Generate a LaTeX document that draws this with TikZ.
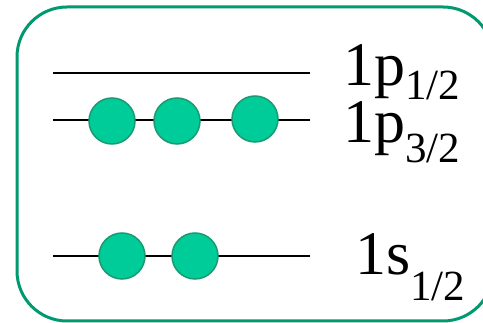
\documentclass[tikz,border=0pt]{standalone}
\usepackage{fontspec}
\setmainfont{Liberation Serif}
\definecolor{boxgreen}{RGB}{0,153,112}
\definecolor{ballfill}{RGB}{0,204,153}
\definecolor{ballline}{RGB}{26,154,112}
\tikzset{
  ball/.style={circle, minimum size=46pt, inner sep=0pt, fill=ballfill, draw=ballline, line width=1.5pt},
  level/.style={draw=black, line width=1.1pt},
  lab/.style={anchor=base west, inner sep=0pt, font=\fontsize{62}{64}\selectfont}
}
\newcommand{\sub}[2]{\raisebox{-#1pt}{\fontsize{43}{45}\selectfont #2}}
\begin{document}
\begin{tikzpicture}[x=1pt,y=-1pt]
\useasboundingbox (0,0) rectangle (483,323);
\clip (0,0) rectangle (483,323);
\draw[boxgreen, line width=3pt, rounded corners=50pt] (17,7) rectangle (493,321);
% levels
\coordinate (a1) at (53,73);  \coordinate (a2) at (310,73);
\coordinate (b1) at (53,120); \coordinate (b2) at (310,120);
\coordinate (c1) at (53,256); \coordinate (c2) at (310,256);
\draw[level] (a1) -- (a2);
\draw[level] (b1) -- (b2);
\draw[level] (c1) -- (c2);
% particles
\node[ball] (p1) at (112,121) {};
\node[ball] (p2) at (177,121) {};
\node[ball] (p3) at (255,119) {};
\node[ball] (s1) at (122,256) {};
\node[ball] (s2) at (195,256) {};
% labels
\node[lab] (l1) at (343,86) {1p\sub{14}{1/2}};
\node[lab] (l2) at (343,143) {1p\sub{20}{3/2}};
\node[lab] (l3) at (355,275) {1s\sub{26}{1/2}};
\end{tikzpicture}
\end{document}
